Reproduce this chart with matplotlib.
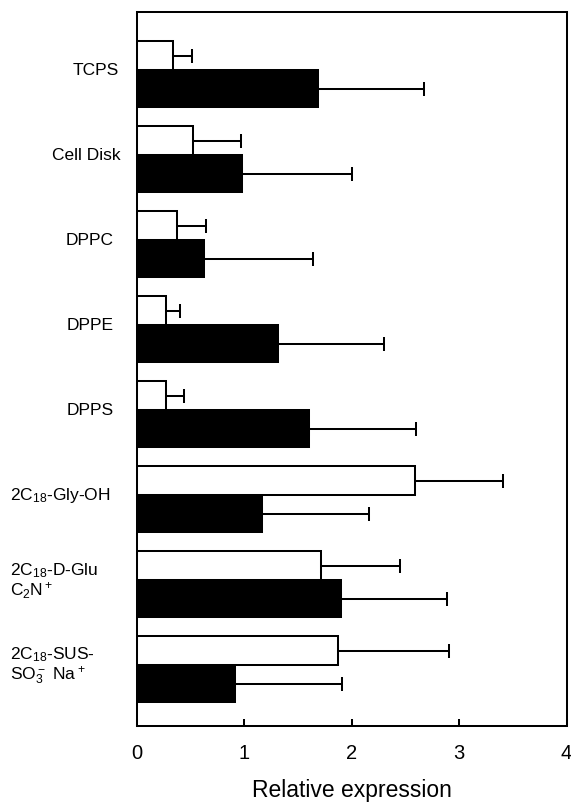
import matplotlib
matplotlib.use("Agg")
import matplotlib.pyplot as plt
import matplotlib.transforms as mtransforms
import numpy as np

plt.rcParams['font.family'] = ['Liberation Sans', 'DejaVu Sans']
plt.rcParams['mathtext.default'] = 'regular'

categories = ["TCPS", "Cell Disk", "DPPC", "DPPE", "DPPS",
              "2C$_{18}$-Gly-OH", "2C$_{18}$-D-Glu\nC$_2$N$^+$",
              "2C$_{18}$-SUS-\nSO$_3^-$ Na$^+$"]
white_vals = [0.34, 0.53, 0.38, 0.27, 0.27, 2.59, 1.72, 1.87]
white_err = [0.18, 0.44, 0.27, 0.13, 0.17, 0.82, 0.73, 1.04]
black_vals = [1.69, 0.98, 0.63, 1.32, 1.60, 1.17, 1.90, 0.92]
black_err = [0.98, 1.02, 1.01, 0.98, 1.00, 0.99, 0.99, 0.99]
x_ticks = [0, 1, 2, 3, 4]

# layout: left edge of each category label in figure pixels
label_left_px = [73, 52, 66, 67, 67, 10, 10, 10]

W, H = 571, 803
fig = plt.figure(figsize=(W / 100, H / 100), dpi=100)
ax = fig.add_axes([136.5 / W, 1 - 727 / H, (566.5 - 136.5) / W, (727 - 13) / H])

n = len(categories)
pos = np.arange(n)
hw, hb = 0.34, 0.44
lw = 1.45

ax.barh(pos - hw, white_vals, height=hw, align='edge', color='white',
        edgecolor='black', linewidth=lw, zorder=2)
ax.barh(pos, black_vals, height=hb, align='edge', color='black',
        edgecolor='black', linewidth=lw, zorder=2)
ax.errorbar(white_vals, pos - hw / 2, xerr=[np.zeros(n), white_err], fmt='none',
            ecolor='black', elinewidth=lw, capsize=5.2, capthick=lw, zorder=3)
ax.errorbar(black_vals, pos + hb / 2, xerr=[np.zeros(n), black_err], fmt='none',
            ecolor='black', elinewidth=lw, capsize=5.2, capthick=lw, zorder=3)

ax.set_xlim(0, 4)
ax.set_ylim(7.718, -0.682)
ax.set_xticks(x_ticks)
ax.set_xticklabels([str(t) for t in x_ticks], fontsize=14.5)
ax.tick_params(axis='x', direction='in', length=5, width=lw, pad=12.5)
ax.set_yticks([])
for s in ax.spines.values():
    s.set_linewidth(lw)

ax.set_xlabel("Relative expression", fontsize=16.5, labelpad=11)

trans = mtransforms.blended_transform_factory(fig.transFigure, ax.transData)
for i, lab in enumerate(categories):
    ax.text(label_left_px[i] / W, i, lab, transform=trans,
            ha='left', va='center', fontsize=12.5, linespacing=1.05)

fig.savefig("out.png", dpi=100)
